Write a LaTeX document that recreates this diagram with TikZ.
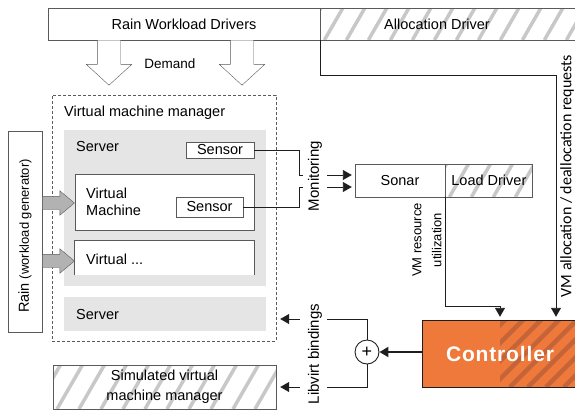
\documentclass[tikz,border=0pt]{standalone}
\usepackage{fontspec}
\setmainfont{Liberation Sans}
\newfontfamily\reqfont{Carlito}
\usetikzlibrary{positioning, arrows.meta, shapes.arrows}
\definecolor{boxline}{RGB}{90,90,90}
\definecolor{wirecol}{RGB}{30,30,30}
\definecolor{servergray}{RGB}{229,229,229}
\definecolor{hatchgray}{RGB}{200,200,200}
\definecolor{feedgray}{RGB}{178,178,178}
\definecolor{ctrlorange}{RGB}{239,121,59}
\definecolor{ctrlstripe}{RGB}{196,100,56}
\tikzset{
	>={Triangle[length=9pt,width=10pt]}, % filled heads on every connector
	every node/.style={font=\fontsize{14.5}{17}\selectfont}, % main text size
	box/.style={draw=boxline, fill=white, inner sep=0pt}, % plain framed box
	serverbox/.style={fill=servergray, inner sep=0pt}, % grey server panel
	lbl/.style={anchor=west, inner sep=0pt}, % left aligned caption inside a panel
	wire/.style={draw=wirecol, line width=0.9pt}, % connector lines
	hatched/.style={path picture={
		\foreach \k in {-40,-18,...,300}
			\draw[hatchgray, line width=3.5pt] ([xshift=\k pt]path picture bounding box.south west) -- ++(30pt,52pt);
	}}, % light grey stripes
	ctrlhatch/.style={path picture={
		\clip ([xshift=78pt]path picture bounding box.south west) rectangle (path picture bounding box.north east);
		\foreach \k in {-20,-2,...,200}
			\draw[ctrlstripe, line width=4.5pt] ([xshift=\k pt]path picture bounding box.south west) -- ++(70pt,70pt);
	}}, % darker stripes on the right part of the controller
	demand/.style={single arrow, draw=boxline, fill=white, minimum height=45pt, inner xsep=0pt, inner ysep=11.5pt, single arrow head extend=11pt, single arrow tip angle=95, rotate=-90},
	feed/.style={single arrow, draw=boxline, fill=feedgray, minimum height=32pt, inner xsep=0pt, inner ysep=6.5pt, single arrow head extend=5.5pt, single arrow tip angle=80},
}

\begin{document}
\begin{tikzpicture}[x=1pt, y=-1pt]
	\useasboundingbox (0,0) rectangle (575,413);
	% drivers on top
	\node[box, minimum width=272, minimum height=32] (rwd) at (184,24) {Rain Workload Drivers};
	\node[box, hatched, minimum width=262, minimum height=32, right=0pt of rwd] (alloc) {};
	\node (alloclabel) at (437,24) {Allocation Driver};
	\node[demand, anchor=tail] (dem1) at (109,40) {};
	\node[demand, anchor=tail] (dem2) at (242,40) {};
	\node[font=\fontsize{13.5}{16}\selectfont] (demand) at (170,64) {Demand};

	% virtual machine manager
	\node[draw=boxline, dash pattern=on 3pt off 2pt, minimum width=224, minimum height=246] (vmm) at (164,218) {};
	\node[lbl] (vmmlabel) at (64,113) {Virtual machine manager};
	\node[serverbox, minimum width=202, minimum height=156] (srv1) at (165,208) {};
	\node[lbl] (srv1label) at (76,147) {Server};
	\node[box, minimum width=68, minimum height=16] (sens1) at (220,150) {Sensor};
	\node[box, minimum width=179, minimum height=56] (vm1) at (164.5,202) {};
	\node[lbl, align=left] (vm1label) at (86,201.5) {Virtual\\Machine};
	\node[box, minimum width=67, minimum height=20] (sens2) at (209.5,207) {Sensor};
	\node[fill=white, inner sep=0pt, minimum width=179, minimum height=34] (vm2) at (164.5,258) {};
	\draw[boxline, line width=0.8pt] (vm2.south west) -- (vm2.north west) -- (vm2.north east) -- (vm2.south east);
	\node[lbl] (vm2label) at (86,259) {Virtual ...};
	\node[serverbox, minimum width=202, minimum height=34] (srv2) at (165,314) {};
	\node[lbl] (srv2label) at (76,315) {Server};
	\node[box, hatched, minimum width=223, minimum height=44, align=center, font=\fontsize{14.5}{20}\selectfont] (simvmm) at (164.5,387) {Simulated virtual\\machine manager};

	% workload generator
	\node[box, minimum width=34, minimum height=201] (rain) at (25,231.5) {};
	\node[rotate=90, inner sep=0pt] (rainlabel) at (25,236) {Rain {\fontsize{13}{14}\selectfont(workload generator)}};
	\node[feed, anchor=tail] (feed1) at (rain.east |- 0,203) {};
	\node[feed, anchor=tail] (feed2) at (rain.east |- 0,261) {};

	% monitoring
	\node[box, minimum width=90, minimum height=33] (sonar) at (400,180.5) {Sonar};
	\node[box, hatched, minimum width=87, minimum height=33, right=0pt of sonar] (loaddrv) {Load Driver};
	\coordinate (mon1) at (303,175);
	\coordinate (mon2) at (303,187);
	\coordinate (mon1in) at (327,175);
	\coordinate (mon2in) at (327,187);
	\draw[wire] (sens1.east) -| (299,175) -- (mon1);
	\draw[wire] (sens2.east) -| (299,187) -- (mon2);
	\draw[wire, ->, shorten >=3pt] (mon1in) -- (sonar.west |- mon1in);
	\draw[wire, ->, shorten >=3pt] (mon2in) -- (sonar.west |- mon2in);
	\node[rotate=90, font=\fontsize{15}{17}\selectfont] (monlabel) at (315,176) {Monitoring};

	% controller
	\node[draw=wirecol, fill=ctrlorange, ctrlhatch, text=white, font=\fontsize{21}{24}\selectfont\bfseries\addfontfeature{LetterSpace=4}, minimum width=156, minimum height=67] (ctrl) at (500,353.5) {Controller};
	\coordinate (utilturn) at (500,306);
	\coordinate (allocturn) at (556,75);
	\draw[wire, ->, shorten >=3pt] (loaddrv.south west) |- (utilturn) -- (utilturn |- ctrl.north);
	\draw[wire, ->, shorten >=3pt] (alloc.south west) |- (allocturn) -- (allocturn |- ctrl.north);
	\node[rotate=90, align=center, font=\fontsize{13}{20}\selectfont] (utillabel) at (427,240) {VM resource\\utilization};
	\node[rotate=90, inner sep=0pt, font=\reqfont\fontsize{16}{19}\selectfont] (reqlabel) at (567,176) {VM allocation / deallocation requests};

	% libvirt bindings
	\node[draw=wirecol, line width=0.9pt, circle, minimum size=24, inner sep=0pt, font=\fontsize{18}{18}\selectfont] (plus) at (367,352) {+};
	\draw[wirecol, line width=2pt, ->] (ctrl.west |- plus) -- (plus.east);
	\coordinate (lv1) at (327,319);
	\coordinate (lv2) at (327,387);
	\coordinate (lv1out) at (300,319);
	\coordinate (lv2out) at (300,387);
	\draw[wire] (plus.north) |- (lv1);
	\draw[wire] (plus.south) |- (lv2);
	\draw[wire, ->, shorten >=4pt] (lv1out) -- (vmm.east |- lv1out);
	\draw[wire, ->, shorten >=4pt] (lv2out) -- (simvmm.east |- lv2out);
	\node[rotate=90, font=\fontsize{15}{17}\selectfont] (lvlabel) at (315,354) {Libvirt bindings};
\end{tikzpicture}
\end{document}
